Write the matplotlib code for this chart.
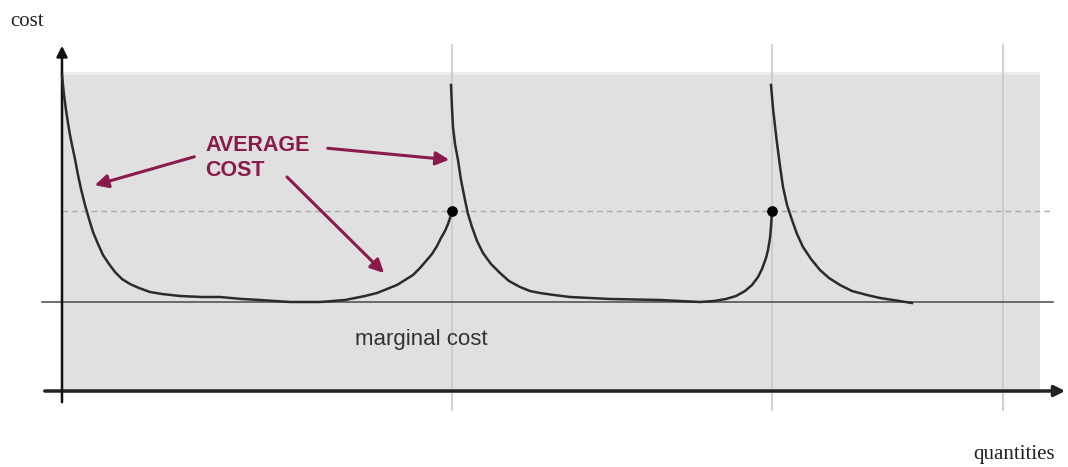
import matplotlib.pyplot as plt
from matplotlib.patches import Rectangle

# levels (cost units)
marginal = 89
threshold = 180
steps = [390, 710, 941]   # quantities where a new fixed cost kicks in

# average cost curves
q1 = [0, 2, 4, 6, 8, 10, 13, 16, 19, 23, 27, 31, 36, 41, 47, 53, 60, 68, 77, 88,
      100, 118, 140, 158, 180, 198, 228, 258, 283, 303, 315, 325, 335, 343, 351,
      358, 364, 370, 375, 379, 383, 386, 388, 390]
c1 = [316, 296, 281, 268, 256, 246, 232, 216, 202, 186, 172, 159, 147, 136, 127,
      119, 112, 107, 103, 99, 97, 95, 94, 94, 92, 91, 89, 89, 91, 95, 98, 102, 106,
      111, 116, 123, 130, 137, 145, 153, 160, 167, 173, 180]

q2 = [389, 390, 391, 393, 396, 399, 403, 406, 410, 415, 421, 429, 438, 447, 458,
      468, 478, 492, 508, 548, 598, 638, 652, 664, 674, 683, 690, 696, 700, 704,
      706, 708, 709, 710]
c2 = [306, 283, 264, 247, 231, 211, 191, 177, 164, 150, 138, 127, 118, 110, 104,
      100, 98, 96, 94, 92, 91, 89, 90, 92, 95, 100, 106, 114, 122, 133, 141, 153,
      164, 180]

q3 = [709, 711, 713, 715, 718, 721, 725, 730, 735, 741, 749, 758, 767, 778, 790,
      805, 818, 831, 850]
c3 = [306, 283, 265, 248, 225, 204, 186, 171, 157, 144, 132, 121, 113, 106, 100,
      96, 93, 91, 88]

dots_q = [390, 710]
dots_c = [180, 180]

fig = plt.figure(figsize=(10.68, 4.67), dpi=100)
ax = fig.add_axes([0, 0, 1, 1])
ax.set_xlim(-62, 1006)
ax.set_ylim(-76, 391)
ax.axis("off")

ax.add_patch(Rectangle((0, -2), 978, 321, facecolor="#e0e0e0", edgecolor="none", zorder=0))
ax.add_patch(Rectangle((0, 316), 978, 3, facecolor="#ebebeb", edgecolor="none", zorder=0))

for s in steps:
    ax.plot([s, s], [-19, 346], color="#c8c8c8", lw=1.2, zorder=1)

ax.plot([0, 990], [threshold, threshold], color="#a8a8a8", lw=1, ls=(0, (4, 3)), zorder=1)
ax.plot([-20, 991], [marginal, marginal], color="#555555", lw=1.2, zorder=2)

# axes with arrows
ax.annotate("", xy=(1006, 0), xytext=(-20, 0),
            arrowprops=dict(arrowstyle="-|>", color="#222222", lw=2.5, mutation_scale=16))
ax.annotate("", xy=(0, 348), xytext=(0, -14),
            arrowprops=dict(arrowstyle="-|>", color="#111111", lw=1.8, mutation_scale=16))

for q, c in [(q1, c1), (q2, c2), (q3, c3)]:
    ax.plot(q, c, color="#2b2b2b", lw=1.8, zorder=3, solid_joinstyle="round")
ax.scatter(dots_q, dots_c, s=45, color="black", zorder=4)

red = "#8a1a4c"
ax.text(143, 233, "AVERAGE\nCOST", color=red, fontsize=15.5, fontweight="bold",
        family="Liberation Sans", ha="left", va="center", linespacing=1.3)
for tail, tip in [((135, 235), (30, 205)), ((263, 243), (390, 231)), ((223, 216), (324, 116))]:
    ax.annotate("", xy=tip, xytext=tail,
                arrowprops=dict(arrowstyle="-|>", color=red, lw=2.2, mutation_scale=20))

ax.text(293, 51, "marginal cost", color="#333333", fontsize=16,
        family="Liberation Sans", ha="left", va="center")
ax.text(-52, 369, "cost", fontsize=15, family="Liberation Serif", color="#222222",
        ha="left", va="center")
ax.text(993, -64, "quantities", fontsize=15, family="Liberation Serif", color="#222222",
        ha="right", va="center")

fig.savefig("out.png", dpi=100)
